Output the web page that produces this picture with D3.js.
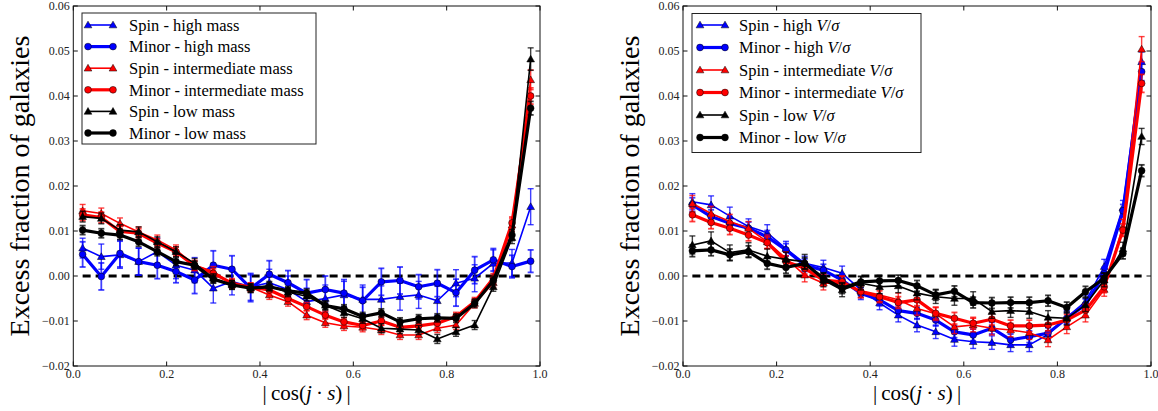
<!DOCTYPE html>
<html><head><meta charset="utf-8">
<script src="https://cdn.jsdelivr.net/npm/d3@7"></script>
<style>body{margin:0;background:#fff} svg{display:block} svg text{font-family:"Liberation Serif","DejaVu Serif",serif;}</style>
</head><body>
<svg id="c" width="1158" height="411"></svg>
<script>
// ---------- DATA ----------
const xBins = [0.02,0.06,0.10,0.14,0.18,0.22,0.26,0.30,0.34,0.38,0.42,0.46,0.50,0.54,0.58,0.62,0.66,0.70,0.74,0.78,0.82,0.86,0.90,0.94,0.98];
const yTickValues = [-0.02,-0.01,0.00,0.01,0.02,0.03,0.04,0.05,0.06];
const xTickValues = [0.0,0.2,0.4,0.6,0.8,1.0];

// Left panel: stellar mass
const spinHighMass  = [0.0062,0.0043,0.0047,0.0032,0.0054,0.0024,0.0013,-0.0027,-0.0012,-0.0024,-0.0015,-0.0030,-0.0057,-0.0050,-0.0042,-0.0052,-0.0052,-0.0046,-0.0042,-0.0055,-0.0016,-0.0005,0.0028,0.0029,0.0154];
const minorHighMass = [0.0048,-0.0001,0.0050,0.0032,0.0024,0.0010,-0.0009,0.0024,0.0015,-0.0027,0.0004,-0.0015,-0.0038,-0.0030,-0.0038,-0.0055,-0.0013,-0.0010,-0.0024,-0.0016,-0.0037,0.0013,0.0036,0.0021,0.0033];
const spinIntMass   = [0.0145,0.0139,0.0117,0.0098,0.0080,0.0058,0.0024,0.0010,-0.0018,-0.0025,-0.0042,-0.0057,-0.0087,-0.0104,-0.0111,-0.0114,-0.0120,-0.0131,-0.0131,-0.0116,-0.0109,-0.0061,-0.0015,0.0113,0.0436];
const minorIntMass  = [0.0136,0.0130,0.0099,0.0095,0.0073,0.0054,0.0022,0.0006,-0.0016,-0.0025,-0.0031,-0.0050,-0.0068,-0.0087,-0.0102,-0.0110,-0.0100,-0.0114,-0.0111,-0.0105,-0.0090,-0.0057,-0.0005,0.0118,0.0400];
const spinLowMass   = [0.0132,0.0128,0.0102,0.0098,0.0076,0.0054,0.0028,-0.0005,-0.0020,-0.0027,-0.0022,-0.0036,-0.0045,-0.0065,-0.0082,-0.0095,-0.0116,-0.0118,-0.0120,-0.0140,-0.0124,-0.0109,-0.0024,0.0085,0.0482];
const minorLowMass  = [0.0102,0.0095,0.0091,0.0076,0.0054,0.0032,0.0024,-0.0007,-0.0020,-0.0027,-0.0024,-0.0033,-0.0038,-0.0066,-0.0073,-0.0090,-0.0082,-0.0102,-0.0095,-0.0093,-0.0094,-0.0061,-0.0010,0.0091,0.0373];

const errSpinHighMass  = [0.0022,0.0028,0.0030,0.0030,0.0030,0.0030,0.0028,0.0033,0.0030,0.0030,0.0030,0.0030,0.0030,0.0030,0.0030,0.0032,0.0030,0.0030,0.0030,0.0032,0.0030,0.0030,0.0030,0.0030,0.0040];
const errMinorHighMass = [0.0028,0.0030,0.0030,0.0030,0.0030,0.0025,0.0030,0.0032,0.0030,0.0030,0.0030,0.0027,0.0030,0.0030,0.0030,0.0030,0.0030,0.0030,0.0027,0.0030,0.0030,0.0030,0.0025,0.0025,0.0025];
const errSpinIntMass   = [0.0014,0.0012,0.0012,0.0011,0.0011,0.0011,0.0011,0.0011,0.0010,0.0010,0.0010,0.0010,0.0010,0.0010,0.0010,0.0010,0.0010,0.0010,0.0010,0.0010,0.0010,0.0010,0.0010,0.0014,0.0022];
const errMinorIntMass  = [0.0013,0.0012,0.0011,0.0010,0.0010,0.0010,0.0010,0.0010,0.0010,0.0009,0.0009,0.0009,0.0009,0.0009,0.0009,0.0009,0.0009,0.0009,0.0009,0.0009,0.0009,0.0009,0.0010,0.0013,0.0018];
const errSpinLowMass   = [0.0012,0.0012,0.0012,0.0011,0.0011,0.0011,0.0011,0.0010,0.0010,0.0010,0.0010,0.0010,0.0010,0.0010,0.0010,0.0010,0.0010,0.0010,0.0010,0.0010,0.0010,0.0010,0.0010,0.0013,0.0025];
const errMinorLowMass  = [0.0010,0.0010,0.0010,0.0010,0.0009,0.0009,0.0009,0.0009,0.0009,0.0009,0.0009,0.0009,0.0009,0.0009,0.0009,0.0009,0.0009,0.0009,0.0009,0.0009,0.0009,0.0009,0.0009,0.0012,0.0015];

// Right panel: V/sigma
const spinHighVs  = [0.0165,0.0158,0.0133,0.0110,0.0096,0.0061,0.0028,0.0019,0.0006,-0.0031,-0.0060,-0.0087,-0.0109,-0.0124,-0.0141,-0.0146,-0.0148,-0.0153,-0.0153,-0.0130,-0.0092,-0.0057,0.0021,0.0152,0.0476];
const minorHighVs = [0.0158,0.0132,0.0117,0.0106,0.0087,0.0058,0.0024,0.0013,-0.0009,-0.0039,-0.0053,-0.0077,-0.0083,-0.0098,-0.0124,-0.0131,-0.0116,-0.0142,-0.0135,-0.0127,-0.0094,-0.0064,0.0005,0.0145,0.0454];
const spinIntVs   = [0.0161,0.0139,0.0121,0.0106,0.0076,0.0039,0.0002,-0.0016,-0.0016,-0.0033,-0.0042,-0.0053,-0.0072,-0.0084,-0.0113,-0.0109,-0.0116,-0.0120,-0.0126,-0.0142,-0.0113,-0.0087,-0.0030,0.0110,0.0504];
const minorIntVs  = [0.0136,0.0119,0.0106,0.0091,0.0074,0.0032,0.0017,-0.0009,-0.0013,-0.0035,-0.0046,-0.0059,-0.0053,-0.0083,-0.0094,-0.0105,-0.0096,-0.0111,-0.0111,-0.0109,-0.0098,-0.0076,-0.0024,0.0102,0.0428];
const spinLowVs   = [0.0069,0.0078,0.0052,0.0058,0.0044,0.0037,0.0032,-0.0009,-0.0031,-0.0016,-0.0024,-0.0022,-0.0038,-0.0046,-0.0050,-0.0050,-0.0079,-0.0077,-0.0079,-0.0092,-0.0094,-0.0064,-0.0009,0.0060,0.0310];
const minorLowVs  = [0.0056,0.0058,0.0047,0.0054,0.0028,0.0019,0.0028,-0.0005,-0.0027,-0.0013,-0.0011,-0.0010,-0.0022,-0.0042,-0.0034,-0.0059,-0.0060,-0.0059,-0.0059,-0.0055,-0.0070,-0.0035,-0.0005,0.0050,0.0234];

const errSpinHighVs  = [0.0018,0.0020,0.0020,0.0017,0.0018,0.0016,0.0016,0.0016,0.0016,0.0016,0.0015,0.0015,0.0015,0.0015,0.0015,0.0015,0.0015,0.0015,0.0015,0.0015,0.0015,0.0015,0.0016,0.0016,0.0022];
const errMinorHighVs = [0.0016,0.0015,0.0015,0.0014,0.0014,0.0014,0.0014,0.0013,0.0013,0.0013,0.0013,0.0013,0.0013,0.0013,0.0013,0.0013,0.0013,0.0013,0.0013,0.0013,0.0013,0.0013,0.0014,0.0014,0.0020];
const errSpinIntVs   = [0.0018,0.0016,0.0016,0.0015,0.0015,0.0015,0.0015,0.0015,0.0015,0.0015,0.0015,0.0015,0.0015,0.0015,0.0015,0.0015,0.0015,0.0015,0.0015,0.0015,0.0015,0.0015,0.0015,0.0016,0.0028];
const errMinorIntVs  = [0.0015,0.0014,0.0014,0.0013,0.0013,0.0013,0.0013,0.0013,0.0013,0.0013,0.0013,0.0013,0.0013,0.0013,0.0013,0.0013,0.0013,0.0013,0.0013,0.0013,0.0013,0.0013,0.0013,0.0014,0.0020];
const errSpinLowVs   = [0.0020,0.0020,0.0017,0.0016,0.0016,0.0016,0.0016,0.0015,0.0015,0.0015,0.0015,0.0015,0.0015,0.0015,0.0015,0.0015,0.0015,0.0015,0.0015,0.0015,0.0015,0.0015,0.0015,0.0015,0.0018];
const errMinorLowVs  = [0.0013,0.0013,0.0013,0.0013,0.0013,0.0013,0.0013,0.0012,0.0012,0.0012,0.0012,0.0012,0.0012,0.0012,0.0012,0.0012,0.0012,0.0012,0.0012,0.0012,0.0012,0.0012,0.0012,0.0012,0.0013];

const massLabels = ["Spin - high mass","Minor - high mass","Spin - intermediate mass","Minor - intermediate mass","Spin - low mass","Minor - low mass"];
const vsLabelPrefixes = ["Spin - high ","Minor - high ","Spin - intermediate ","Minor - intermediate ","Spin - low ","Minor - low "];
const seriesColors = ["#0000ff","#0000ff","#ff0000","#ff0000","#000000","#000000"];
const seriesKinds = ["spin","minor","spin","minor","spin","minor"];
const yLabelText = "Excess fraction of galaxies";

// ---------- LAYOUT ----------
const FONT = '"Liberation Serif","DejaVu Serif",serif';
const svg = d3.select("#c");
const yTop = 6, yBottom = 366;

const panels = [
  { x0: 73.3, x1: 540, values: [spinHighMass,minorHighMass,spinIntMass,minorIntMass,spinLowMass,minorLowMass],
    errs: [errSpinHighMass,errMinorHighMass,errSpinIntMass,errMinorIntMass,errSpinLowMass,errMinorLowMass],
    legend: {x: 82, y: 13, w: 234, h: 131, row0: 25, step: 21.6, sx0: 88, sx1: 113, tx: 129}, vs: false, ylabX: 28.5 },
  { x0: 683, x1: 1151, values: [spinHighVs,minorHighVs,spinIntVs,minorIntVs,spinLowVs,minorLowVs],
    errs: [errSpinHighVs,errMinorHighVs,errSpinIntVs,errMinorIntVs,errSpinLowVs,errMinorLowVs],
    legend: {x: 692, y: 13.5, w: 229, h: 139, row0: 25, step: 22.5, sx0: 700, sx1: 725, tx: 739}, vs: true, ylabX: 638.5 }
];

const fmtY = v => { const s = Math.abs(v).toFixed(2); return (v < -1e-9 ? "\u2212" : "") + s; };
const fmtX = v => v.toFixed(1);

function txt(sel) { return sel.style("font-family", FONT); }

function drawMarker(g, kind, cx, cy, color) {
  if (kind === "spin") {
    g.append("path").attr("d", d3.symbol(d3.symbolTriangle, 26)())
      .attr("transform", `translate(${cx},${cy+0.6})`)
      .attr("fill", color).attr("stroke", "#000").attr("stroke-width", 0.5);
  } else {
    g.append("circle").attr("cx", cx).attr("cy", cy).attr("r", 3.4)
      .attr("fill", color).attr("stroke", "#000").attr("stroke-width", 0.5);
  }
}

panels.forEach(p => {
  const x = d3.scaleLinear().domain([0, 1]).range([p.x0, p.x1]);
  const y = d3.scaleLinear().domain([-0.02, 0.06]).range([yBottom, yTop]);
  const g = svg.append("g");

  // zero dashed line
  g.append("line").attr("x1", x(xBins[0])).attr("x2", x(xBins[xBins.length-1]))
    .attr("y1", y(0)).attr("y2", y(0))
    .attr("stroke", "#000").attr("stroke-width", 3).attr("stroke-dasharray", "8,5");

  // series
  const line = d3.line().x((d,i) => x(xBins[i])).y(d => y(d));
  p.values.forEach((vals, si) => {
    const color = seriesColors[si], kind = seriesKinds[si];
    const lw = kind === "spin" ? 1.6 : 3.2;
    const sg = g.append("g");
    sg.append("path").datum(vals).attr("d", line).attr("fill", "none")
      .attr("stroke", color).attr("stroke-width", lw).attr("stroke-linejoin", "round");
    const eb = sg.append("g").attr("stroke", color).attr("stroke-opacity", 0.75)
      .attr("stroke-width", kind === "spin" ? 1.4 : 1.8);
    vals.forEach((v, i) => {
      const e = p.errs[si][i], cx = x(xBins[i]);
      eb.append("line").attr("x1", cx).attr("x2", cx).attr("y1", y(v - e)).attr("y2", y(v + e));
      eb.append("line").attr("x1", cx - 3).attr("x2", cx + 3).attr("y1", y(v - e)).attr("y2", y(v - e));
      eb.append("line").attr("x1", cx - 3).attr("x2", cx + 3).attr("y1", y(v + e)).attr("y2", y(v + e));
    });
    vals.forEach((v, i) => drawMarker(sg, kind, x(xBins[i]), y(v), color));
  });

  // frame
  g.append("rect").attr("x", p.x0).attr("y", yTop).attr("width", p.x1 - p.x0).attr("height", yBottom - yTop)
    .attr("fill", "none").attr("stroke", "#111").attr("stroke-width", 1);

  // ticks (inward, all four sides)
  const tl = 4.5;
  yTickValues.forEach(v => {
    g.append("line").attr("x1", p.x0).attr("x2", p.x0 + tl).attr("y1", y(v)).attr("y2", y(v)).attr("stroke", "#111");
    g.append("line").attr("x1", p.x1).attr("x2", p.x1 - tl).attr("y1", y(v)).attr("y2", y(v)).attr("stroke", "#111");
    txt(g.append("text")).attr("x", p.x0 - 3.5).attr("y", y(v)).attr("dy", "0.35em")
      .attr("text-anchor", "end").attr("font-size", 12).attr("fill", "#222").text(fmtY(v));
  });
  xTickValues.forEach(v => {
    g.append("line").attr("x1", x(v)).attr("x2", x(v)).attr("y1", yBottom).attr("y2", yBottom - tl).attr("stroke", "#111");
    g.append("line").attr("x1", x(v)).attr("x2", x(v)).attr("y1", yTop).attr("y2", yTop + tl).attr("stroke", "#111");
    txt(g.append("text")).attr("x", x(v)).attr("y", 378)
      .attr("text-anchor", "middle").attr("font-size", 12).attr("fill", "#222").text(fmtX(v));
  });

  // axis labels
  txt(g.append("text")).attr("transform", `translate(${p.ylabX},${(yTop + yBottom) / 2}) rotate(-90)`)
    .attr("text-anchor", "middle").attr("font-size", 28).attr("fill", "#000").text(yLabelText);
  const xl = txt(g.append("text")).attr("x", (p.x0 + p.x1) / 2).attr("y", 400).attr("text-anchor", "middle")
    .attr("font-size", 21).attr("fill", "#000");
  xl.append("tspan").text("|\u2009cos(");
  xl.append("tspan").attr("font-style", "italic").text("j");
  xl.append("tspan").text("\u2009\u00b7\u2009");
  xl.append("tspan").attr("font-style", "italic").text("s");
  xl.append("tspan").text(")\u2009|");

  // legend
  const L = p.legend;
  const lg = g.append("g");
  lg.append("rect").attr("x", L.x).attr("y", L.y).attr("width", L.w).attr("height", L.h)
    .attr("fill", "#fff").attr("stroke", "#222").attr("stroke-width", 1);
  seriesColors.forEach((color, si) => {
    const ry = L.row0 + si * L.step, kind = seriesKinds[si];
    lg.append("line").attr("x1", L.sx0).attr("x2", L.sx1).attr("y1", ry).attr("y2", ry)
      .attr("stroke", color).attr("stroke-width", kind === "spin" ? 1.6 : 3.2);
    drawMarker(lg, kind, L.sx0, ry, color);
    drawMarker(lg, kind, L.sx1, ry, color);
    const t = txt(lg.append("text")).attr("x", L.tx).attr("y", ry).attr("dy", "0.35em")
      .attr("font-size", 16.5).attr("fill", "#000");
    if (!p.vs) {
      t.text(massLabels[si]);
    } else {
      t.append("tspan").text(vsLabelPrefixes[si]);
      t.append("tspan").attr("font-style", "italic").text("V");
      t.append("tspan").text("/");
      t.append("tspan").attr("font-style", "italic").text("\u03c3");
    }
  });
});
</script>
</body></html>
